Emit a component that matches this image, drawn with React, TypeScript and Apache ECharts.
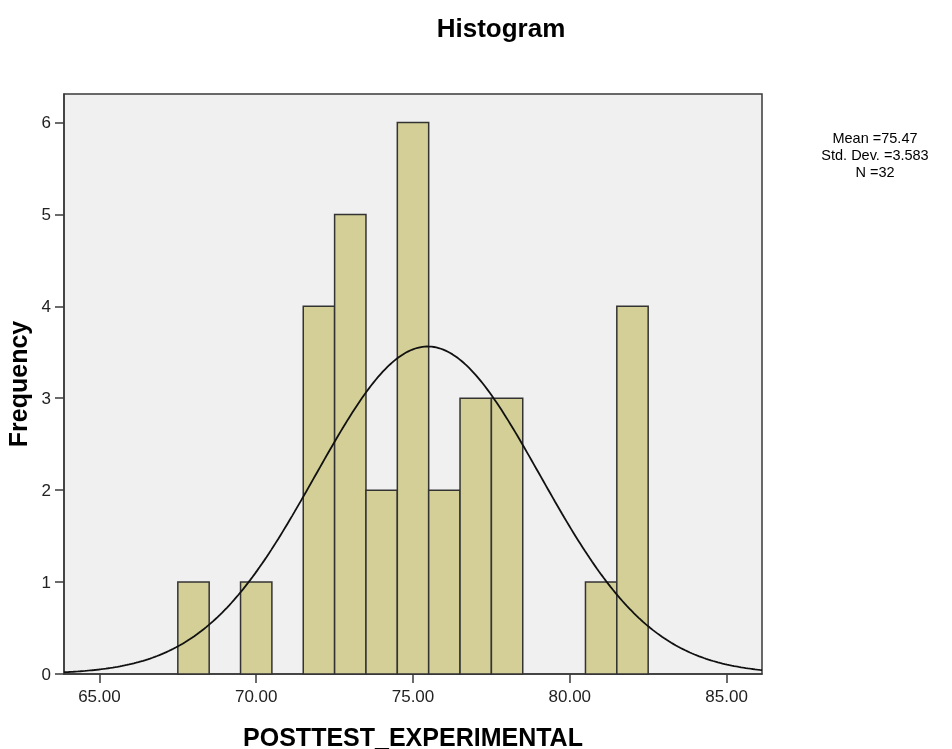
import React, { useEffect, useRef } from "react";
import * as echarts from "echarts";

// Histogram bins (lower edge, width 1) and frequencies
const binStarts = [67.5, 69.5, 71.5, 72.5, 73.5, 74.5, 75.5, 76.5, 77.5, 80.5, 81.5];
const binCounts = [1, 1, 4, 5, 2, 6, 2, 3, 3, 1, 4];
const binWidth = 1;

// Summary statistics (used for the fitted normal curve)
const mean = 75.47;
const stdDev = 3.583;
const n = 32;

const xTicks = [65, 70, 75, 80, 85];
const yTicks = [0, 1, 2, 3, 4, 5, 6];

const xMin = 63.87;
const xMax = 86.13;

export default function App() {
  const ref = useRef<HTMLDivElement>(null);

  useEffect(() => {
    if (!ref.current) return;
    const chart = echarts.init(ref.current, undefined, { renderer: "svg" });

    const curve: number[][] = [];
    const steps = 300;
    for (let i = 0; i <= steps; i++) {
      const x = xMin + ((xMax - xMin) * i) / steps;
      const z = (x - mean) / stdDev;
      const y = (n * binWidth * Math.exp(-0.5 * z * z)) / (stdDev * Math.sqrt(2 * Math.PI));
      curve.push([x, y]);
    }

    const font = "'Liberation Sans', Arial, sans-serif";

    chart.setOption({
      animation: false,
      title: {
        text: "Histogram",
        left: 496,
        top: 10,
        textAlign: "center",
        textStyle: { fontFamily: font, fontSize: 26, fontWeight: "bold", color: "#000" },
      },
      graphic: [
        {
          type: "text",
          x: 875,
          y: 129,
          style: {
            text: "Mean =75.47\nStd. Dev. =3.583\nN =32",
            align: "center",
            verticalAlign: "top",
            fontFamily: font,
            fontSize: 14.5,
            lineHeight: 17,
            fill: "#000",
          },
        },
      ],
      grid: {
        left: 64,
        right: 190,
        top: 94,
        bottom: 75,
        containLabel: false,
        outerBoundsMode: "none",
        show: true,
        backgroundColor: "#f0f0f0",
        borderColor: "#3a3a3a",
        borderWidth: 1.5,
      },
      xAxis: {
        type: "value",
        min: xMin,
        max: xMax,
        name: "POSTTEST_EXPERIMENTAL",
        nameLocation: "middle",
        nameGap: 50,
        nameTextStyle: { fontFamily: font, fontSize: 25, fontWeight: "bold", color: "#000" },
        splitLine: { show: false },
        axisLine: { show: true, onZero: false, lineStyle: { color: "#3a3a3a", width: 1.5 } },
        axisTick: { show: true, length: 9, lineStyle: { color: "#3a3a3a", width: 1.5 }, customValues: xTicks },
        axisLabel: {
          fontFamily: font,
          fontSize: 17,
          color: "#222",
          margin: 14,
          customValues: xTicks,
          formatter: (v: number) => v.toFixed(2),
        },
      },
      yAxis: {
        type: "value",
        min: 0,
        max: 6.31,
        name: "Frequency",
        nameLocation: "middle",
        nameGap: 26,
        nameTextStyle: { fontFamily: font, fontSize: 25, fontWeight: "bold", color: "#000" },
        splitLine: { show: false },
        axisLine: { show: true, lineStyle: { color: "#3a3a3a", width: 1.5 } },
        axisTick: { show: true, length: 9, lineStyle: { color: "#3a3a3a", width: 1.5 }, customValues: yTicks },
        axisLabel: {
          fontFamily: font,
          fontSize: 17,
          color: "#222",
          margin: 13,
          customValues: yTicks,
        },
      },
      series: [
        {
          type: "custom",
          data: binStarts.map((s, i) => [s, s + binWidth, binCounts[i]]),
          encode: { x: [0, 1], y: 2 },
          renderItem: (params: any, api: any) => {
            const x0 = api.value(0);
            const x1 = api.value(1);
            const y = api.value(2);
            const p0 = api.coord([x0, y]);
            const p1 = api.coord([x1, 0]);
            return {
              type: "rect",
              shape: { x: p0[0], y: p0[1], width: p1[0] - p0[0], height: p1[1] - p0[1] },
              style: { fill: "#d3cf97", stroke: "#333333", lineWidth: 1.5 },
            };
          },
          z: 2,
        },
        {
          type: "line",
          data: curve,
          showSymbol: false,
          symbol: "none",
          smooth: false,
          lineStyle: { color: "#111", width: 1.8 },
          z: 3,
        },
      ],
    });

    return () => chart.dispose();
  }, []);

  return <div ref={ref} style={{ position: "fixed", left: 0, top: 0, width: 952, height: 749 }} />;
}
